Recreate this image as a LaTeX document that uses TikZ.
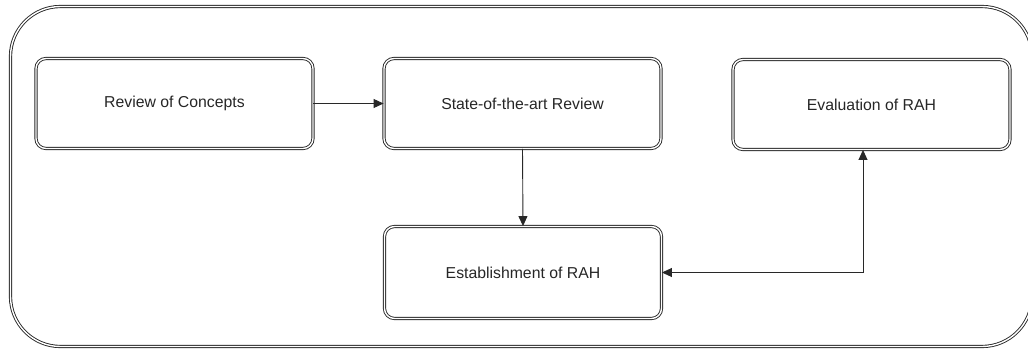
\documentclass[tikz,border=0pt]{standalone}
\usepackage{fontspec}
\setmainfont{Liberation Sans}
\usetikzlibrary{arrows.meta}
\definecolor{edge}{RGB}{40,40,40}
\tikzset{
  dbl/.style={draw=edge, line width=0.9pt, double=white, double distance=1.4pt},
  stepbox/.style={dbl, rounded corners=10pt, minimum width=277pt, minimum height=90pt,
    inner sep=0pt, font=\fontsize{15.8}{18}\selectfont, text=black!85},
  link/.style={draw=edge, line width=0.9pt, -{Triangle[length=10pt,width=9pt]}},
  bilink/.style={draw=edge, line width=0.9pt, {Triangle[length=10pt,width=9pt]}-{Triangle[length=10pt,width=9pt]}}
}
\begin{document}
\begin{tikzpicture}[x=1pt, y=-1pt]
  \useasboundingbox (0,0) rectangle (1028,349);
  % enclosing frame
  \draw[dbl, rounded corners=50pt] (10.5,6.5) rectangle (1032,346.5);
  % process steps
  \node[stepbox] (concepts) at (174.5,103.5) {Review of Concepts};
  \node[stepbox] (sota) at (522.5,103.5) {State-of-the-art Review};
  \node[stepbox] (eval) at (871.5,104.5) {Evaluation of RAH};
  \node[stepbox, minimum height=92pt] (estab) at (523,272.5) {Establishment of RAH};
  % connectors
  \draw[link] (concepts.east) -- (sota.west);
  \draw[link] (sota.south) -- (estab.north);
  \draw[bilink] (eval.south -| 863,0) |- (estab.east);
\end{tikzpicture}
\end{document}
